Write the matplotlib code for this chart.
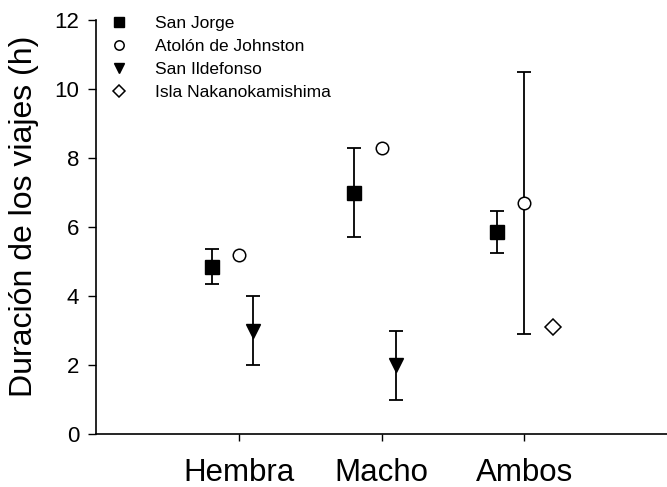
import numpy as np
import matplotlib
matplotlib.use("Agg")
import matplotlib.pyplot as plt

plt.rcParams['font.family'] = ['Liberation Sans', 'DejaVu Sans']

categories = ["Hembra", "Macho", "Ambos"]
series = ["San Jorge", "Atolón de Johnston", "San Ildefonso", "Isla Nakanokamishima"]
san_jorge = [4.85, 7.0, 5.85]
san_jorge_err = [0.5, 1.3, 0.6]
atolon = [5.2, 8.3, 6.7]
atolon_err = [np.nan, np.nan, 3.8]
san_ildefonso = [3.0, 2.0, np.nan]
san_ildefonso_err = [1.0, 1.0, np.nan]
nakanokamishima = [np.nan, np.nan, 3.1]
nakanokamishima_err = [np.nan, np.nan, np.nan]
yticks = [0, 2, 4, 6, 8, 10, 12]

values = [san_jorge, atolon, san_ildefonso, nakanokamishima]
errors = [san_jorge_err, atolon_err, san_ildefonso_err, nakanokamishima_err]
offsets = [-0.19, 0.0, 0.1, 0.2]
styles = [
    dict(marker='s', mfc='black', mec='black', ms=9.5),
    dict(marker='o', mfc='white', mec='black', ms=9, mew=1.1),
    dict(marker='v', mfc='black', mec='black', ms=10),
    dict(marker='D', mfc='white', mec='black', ms=8.5, mew=1.1),
]

fig = plt.figure(figsize=(6.67, 4.87), dpi=100)
ax = fig.add_axes([96/667, 1-434/487, 1-96/667, (434-20)/487])

x = np.arange(1, len(categories) + 1)
for vals, errs, off, st, name in zip(values, errors, offsets, styles, series):
    xs = x + off
    ax.errorbar(xs, vals, yerr=errs, fmt='none', ecolor='black',
                elinewidth=1.3, capsize=4.7, capthick=1.3, zorder=2)
    ax.plot(xs, vals, linestyle='none', label=name, zorder=3, **st)

ax.set_xlim(0, 4)
ax.set_ylim(0, 12)
ax.set_xticks(x)
ax.set_xticklabels(categories, fontsize=22.5)
ax.set_yticks(yticks)
ax.set_yticklabels([str(t) for t in yticks], fontsize=16)
ax.tick_params(axis='x', direction='out', length=5, width=1, pad=12)
ax.tick_params(axis='y', direction='out', length=6, width=1, pad=6)
ax.set_ylabel("Duración de los viajes (h)", fontsize=23)
ax.yaxis.set_label_coords(-0.1, 0.525)
for s in ['top', 'right']:
    ax.spines[s].set_visible(False)
for s in ['left', 'bottom']:
    ax.spines[s].set_linewidth(1.2)

ax.legend(loc='upper left', bbox_to_anchor=(0.025, 1.01), frameon=False,
          fontsize=12.5, handlelength=1.0, handletextpad=1.6,
          labelspacing=0.45, borderpad=0, borderaxespad=0, numpoints=1,
          markerscale=0.75)

fig.savefig("out.png", dpi=100)
